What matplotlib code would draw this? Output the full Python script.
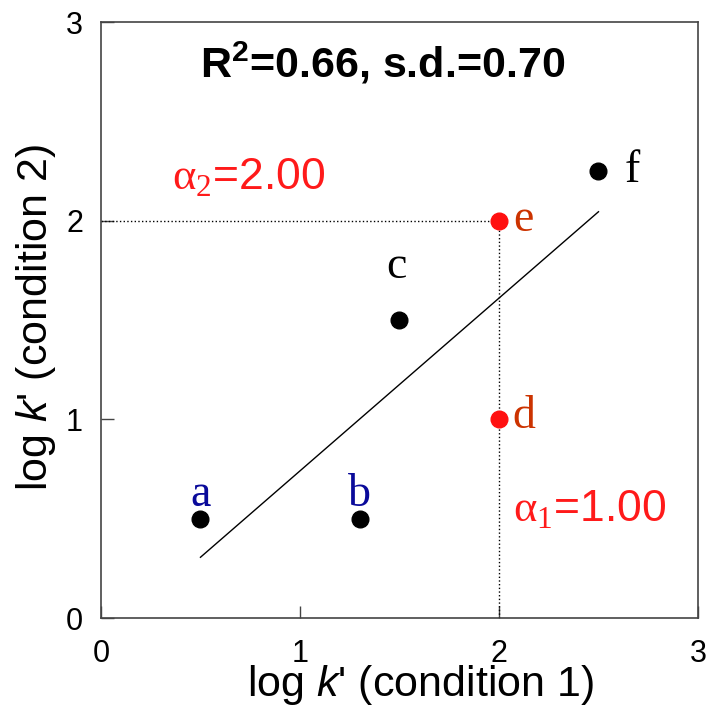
import numpy as np
import matplotlib
matplotlib.use("Agg")
import matplotlib.pyplot as plt

plt.rcParams['font.family'] = 'Liberation Sans'
plt.rcParams['mathtext.fontset'] = 'custom'
plt.rcParams['mathtext.rm'] = 'Liberation Serif'
plt.rcParams['mathtext.it'] = 'Liberation Sans:italic'
plt.rcParams['mathtext.sf'] = 'Liberation Sans'
plt.rcParams['mathtext.bf'] = 'Liberation Sans:bold'

# data
names = ['a', 'b', 'c', 'd', 'e', 'f']
x = [0.5, 1.3, 1.5, 2.0, 2.0, 2.5]
y = [0.5, 0.5, 1.5, 1.0, 2.0, 2.25]
point_colors = ['black', 'black', 'black', '#ff1010', '#ff1010', 'black']
label_colors = ['#0a0a9a', '#0a0a9a', 'black', '#cc3300', '#cc3300', 'black']
alpha1 = 1.00
alpha2 = 2.00
r2 = 0.66
sd = 0.70
ticks = [0, 1, 2, 3]

# label offsets in points (position only), text baseline anchored
offsets = [(0, 9.5, 'center'), (0, 9.5, 'center'), (-2, 30, 'center'),
           (10, -6, 'left'), (10, -7, 'left'), (19, -8, 'left')]

fig = plt.figure(figsize=(7.11, 7.11), dpi=100)
ax = fig.add_axes([0.142, 0.1308, 0.8397, 0.838])

# regression line over the data range
slope, icpt = np.polyfit(x, y, 1)
xl = np.array([min(x), max(x)])
ax.plot(xl, slope * xl + icpt, color='black', lw=1)

# dotted guide lines
ax.plot([0, 2], [alpha2, alpha2], ':', color='black', lw=1)
ax.plot([2, 2], [0, alpha2], ':', color='black', lw=1)

for xi, yi, pc in zip(x, y, point_colors):
    ax.plot(xi, yi, 'o', color=pc, ms=12, zorder=3)

for n, xi, yi, lc, (dx, dy, ha) in zip(names, x, y, label_colors, offsets):
    ax.annotate(n, (xi, yi), xytext=(dx, dy), textcoords='offset points',
                ha=ha, va='baseline', color=lc, fontsize=33,
                family='Liberation Serif')

ax.text(0.472, 0.931, r"R$^\mathbf{2}$=%.2f, s.d.=%.2f" % (r2, sd),
        transform=ax.transAxes, ha='center', va='center',
        fontsize=31, fontweight='bold')
ax.text(0.119, 0.738, r"$\mathrm{\alpha}_\mathrm{2}$=%.2f" % alpha2,
        transform=ax.transAxes, ha='left', va='center', color='#ff1a1a', fontsize=32)
ax.text(0.69, 0.181, r"$\mathrm{\alpha}_\mathrm{1}$=%.2f" % alpha1,
        transform=ax.transAxes, ha='left', va='center', color='#ff1a1a', fontsize=32)

ax.set_xlim(0, 3)
ax.set_ylim(0, 3)
ax.set_xticks(ticks)
ax.set_yticks(ticks)
ax.tick_params(direction='in', length=9, width=1, colors='#444444',
               labelcolor='black', labelsize=22)
ax.tick_params(axis='x', pad=15)
ax.tick_params(axis='y', pad=13)
for s in ax.spines.values():
    s.set_color('#444444')
    s.set_linewidth(1.2)

ax.set_xlabel(r"log $k$' (condition 1)", fontsize=31, va='baseline')
ax.xaxis.set_label_coords(0.535, -0.131)
ax.set_ylabel(r"log $k$' (condition 2)", fontsize=31, va='baseline')
ax.yaxis.set_label_coords(-0.09, 0.505)

fig.savefig('out.png', dpi=100)
